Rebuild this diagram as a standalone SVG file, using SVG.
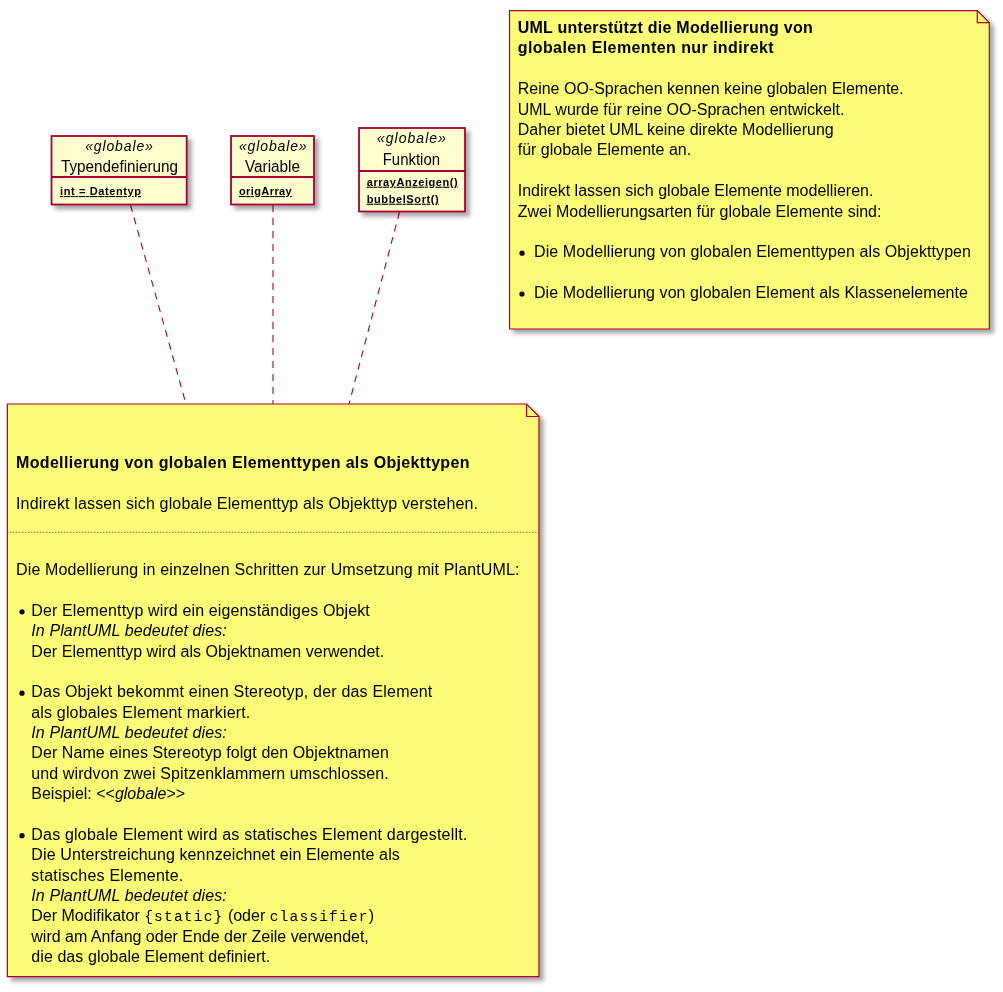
<svg xmlns="http://www.w3.org/2000/svg" width="1003" height="992" viewBox="0 0 1003 992">
<defs>
<filter id="sh" x="-10%" y="-10%" width="125%" height="125%">
<feGaussianBlur in="SourceAlpha" stdDeviation="2"/>
<feOffset dx="4" dy="4" result="b"/>
<feFlood flood-color="#000" flood-opacity="0.35"/>
<feComposite in2="b" operator="in"/>
<feMerge><feMergeNode/><feMergeNode in="SourceGraphic"/></feMerge>
</filter>
<style>
.cls{fill:#FEFECE;stroke:#A80036;stroke-width:1.8}
.sep{stroke:#A80036;stroke-width:1.8}
.note{fill:#FBFB77;stroke:#A80036;stroke-width:1.2}
.fold{fill:none;stroke:#A80036;stroke-width:1.2}
.con{fill:none;stroke:#A80036;stroke-width:1.1;stroke-dasharray:7,6}
text{font-family:"Liberation Sans",Arial,sans-serif;fill:#000}
.st{font-size:14px;font-style:italic;text-anchor:middle}
.nm{font-size:16px;text-anchor:middle}
.mb{font-size:11px;font-weight:bold;text-decoration:underline}
.t{font-size:16px}
.b{font-size:16px;font-weight:bold}
.i{font-style:italic}
.m{font-family:"Liberation Mono","Courier New",monospace;font-size:14.5px;letter-spacing:1.2px}
.bul{fill:#000}
</style>
</defs>
<rect width="1003" height="992" fill="#fff"/>

<g id="connectors">
<path class="con" d="M130.5,205 L186,404"/>
<path class="con" d="M273,205 L273,404"/>
<path class="con" d="M399.5,212 L349,404"/>
</g>

<g id="Typendefinierung" filter="url(#sh)">
<rect class="cls" x="51.5" y="136" width="135.2" height="68.5"/>
<line class="sep" x1="51.5" y1="177" x2="186.7" y2="177"/>
<text class="st" x="119" y="151" textLength="67.7" lengthAdjust="spacing">«globale»</text>
<text class="nm" x="119.5" y="171.7" textLength="117" lengthAdjust="spacingAndGlyphs">Typendefinierung</text>
<text class="mb" x="60" y="195" textLength="81" lengthAdjust="spacing">int = Datentyp</text>
</g>

<g id="Variable" filter="url(#sh)">
<rect class="cls" x="231" y="136" width="83" height="68.5"/>
<line class="sep" x1="231" y1="177" x2="314" y2="177"/>
<text class="st" x="272.8" y="151" textLength="67.7" lengthAdjust="spacing">«globale»</text>
<text class="nm" x="272.5" y="171.7" textLength="55" lengthAdjust="spacingAndGlyphs">Variable</text>
<text class="mb" x="239" y="195" textLength="52.7" lengthAdjust="spacing">origArray</text>
</g>

<g id="Funktion" filter="url(#sh)">
<rect class="cls" x="359" y="128" width="106" height="83.5"/>
<line class="sep" x1="359" y1="171" x2="465" y2="171"/>
<text class="st" x="411.4" y="143.3" textLength="69" lengthAdjust="spacing">«globale»</text>
<text class="nm" x="411.4" y="165" textLength="57.3" lengthAdjust="spacingAndGlyphs">Funktion</text>
<text class="mb" x="366.7" y="185.7" textLength="91" lengthAdjust="spacing">arrayAnzeigen()</text>
<text class="mb" x="366.7" y="202.7" textLength="72" lengthAdjust="spacing">bubbelSort()</text>
</g>

<g id="note1" filter="url(#sh)">
<path class="note" d="M509.5,10.7 L977.3,10.7 L989.3,22.7 L989.3,329 L509.5,329 Z"/>
<path class="fold" d="M977.3,10.7 L977.3,22.7 L989.3,22.7"/>
<text class="b" x="517.7" y="33" textLength="295" lengthAdjust="spacing">UML unterstützt die Modellierung von</text>
<text class="b" x="517.7" y="53.4" textLength="256" lengthAdjust="spacing">globalen Elementen nur indirekt</text>
<text class="t" x="517.7" y="94.2">Reine OO-Sprachen kennen keine globalen Elemente.</text>
<text class="t" x="517.7" y="114.6">UML wurde für reine OO-Sprachen entwickelt.</text>
<text class="t" x="517.7" y="135">Daher bietet UML keine direkte Modellierung</text>
<text class="t" x="517.7" y="155.4">für globale Elemente an.</text>
<text class="t" x="517.7" y="196.2">Indirekt lassen sich globale Elemente modellieren.</text>
<text class="t" x="517.7" y="216.6">Zwei Modellierungsarten für globale Elemente sind:</text>
<circle class="bul" cx="522" cy="253.2" r="2.6"/>
<text class="t" x="534" y="257.4" textLength="437" lengthAdjust="spacing">Die Modellierung von globalen Elementtypen als Objekttypen</text>
<circle class="bul" cx="522" cy="294" r="2.6"/>
<text class="t" x="534" y="298.2" textLength="434" lengthAdjust="spacing">Die Modellierung von globalen Element als Klassenelemente</text>
</g>

<g id="note2" filter="url(#sh)">
<path class="note" d="M7.3,404 L526.5,404 L539,416.5 L539,976.7 L7.3,976.7 Z"/>
<path class="fold" d="M526.5,404 L526.5,416.5 L539,416.5"/>
<text class="b" x="16" y="467.7" textLength="453.5" lengthAdjust="spacing">Modellierung von globalen Elementtypen als Objekttypen</text>
<text class="t" x="16" y="508.7" textLength="462" lengthAdjust="spacing">Indirekt lassen sich globale Elementtyp als Objekttyp verstehen.</text>
<line x1="7.3" y1="532.3" x2="539" y2="532.3" stroke="#A80036" stroke-width="1" stroke-dasharray="1,2"/>
<text class="t" x="16" y="575.3" textLength="503.5" lengthAdjust="spacing">Die Modellierung in einzelnen Schritten zur Umsetzung mit PlantUML:</text>
<circle class="bul" cx="22" cy="611.8" r="2.6"/>
<text class="t" x="31.3" y="616" textLength="338.5" lengthAdjust="spacing">Der Elementtyp wird ein eigenständiges Objekt</text>
<text class="t i" x="31.3" y="636.4" textLength="195.5" lengthAdjust="spacing">In PlantUML bedeutet dies:</text>
<text class="t" x="31.3" y="656.7" textLength="353" lengthAdjust="spacing">Der Elementtyp wird als Objektnamen verwendet.</text>
<circle class="bul" cx="22" cy="693.2" r="2.6"/>
<text class="t" x="31.3" y="697.4" textLength="401" lengthAdjust="spacing">Das Objekt bekommt einen Stereotyp, der das Element</text>
<text class="t" x="31.3" y="717.7" textLength="219" lengthAdjust="spacing">als globales Element markiert.</text>
<text class="t i" x="31.3" y="738" textLength="195.5" lengthAdjust="spacing">In PlantUML bedeutet dies:</text>
<text class="t" x="31.3" y="758.4" textLength="357.5" lengthAdjust="spacing">Der Name eines Stereotyp folgt den Objektnamen</text>
<text class="t" x="31.3" y="778.8" textLength="357.5" lengthAdjust="spacing">und wirdvon zwei Spitzenklammern umschlossen.</text>
<text class="t" x="31.3" y="799.2">Beispiel: &lt;&lt;<tspan class="i">globale</tspan>&gt;&gt;</text>
<circle class="bul" cx="22" cy="835.7" r="2.6"/>
<text class="t" x="31.3" y="839.9" textLength="436" lengthAdjust="spacing">Das globale Element wird as statisches Element dargestellt.</text>
<text class="t" x="31.3" y="860.2" textLength="368.5" lengthAdjust="spacing">Die Unterstreichung kennzeichnet ein Elemente als</text>
<text class="t" x="31.3" y="880.6" textLength="152" lengthAdjust="spacing">statisches Elemente.</text>
<text class="t i" x="31.3" y="900.9" textLength="195.5" lengthAdjust="spacing">In PlantUML bedeutet dies:</text>
<text class="t" x="31.3" y="921.3">Der Modifikator <tspan class="m">{static}</tspan> (oder <tspan class="m">classifier</tspan>)</text>
<text class="t" x="31.3" y="941.6" textLength="337.5" lengthAdjust="spacing">wird am Anfang oder Ende der Zeile verwendet,</text>
<text class="t" x="31.3" y="962" textLength="239" lengthAdjust="spacing">die das globale Element definiert.</text>
</g>
</svg>
